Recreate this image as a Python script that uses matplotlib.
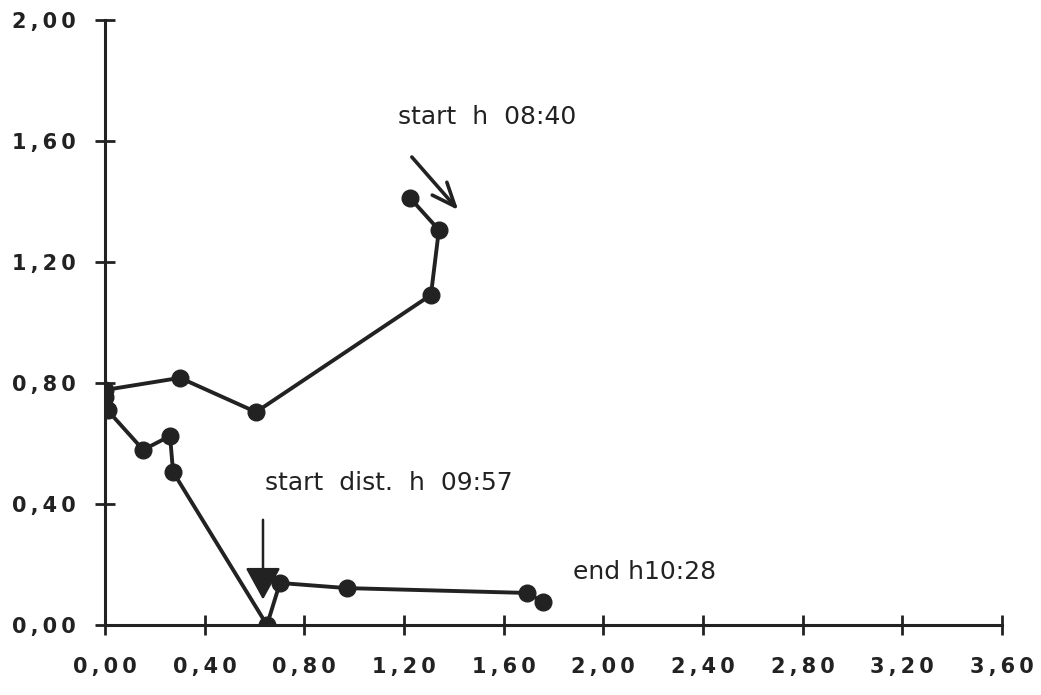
import matplotlib.pyplot as plt
from matplotlib.ticker import FixedLocator, FuncFormatter

# trajectory, in time order (08:40 -> 10:28)
x_vals = [1.224, 1.340, 1.308, 0.606, 0.301, 0.0, 0.0, 0.01, 0.153, 0.261, 0.273,
          0.650, 0.702, 0.971, 1.693, 1.758]
y_vals = [1.412, 1.306, 1.091, 0.704, 0.817, 0.777, 0.755, 0.71, 0.579, 0.625, 0.506,
          0.0, 0.139, 0.122, 0.106, 0.076]

x_ticks = [0.0, 0.4, 0.8, 1.2, 1.6, 2.0, 2.4, 2.8, 3.2, 3.6]
y_ticks = [0.0, 0.4, 0.8, 1.2, 1.6, 2.0]

labels = ["start  h  08:40", "start  dist.  h  09:57", "end h10:28"]
label_pos = [(1.176, 1.679), (0.642, 0.469), (1.878, 0.175)]

ink = "#222222"

def spaced(v, pos):
    # wide letter spacing like the original tick labels
    return "\u2009".join(f"{v:.2f}".replace(".", ","))

fig = plt.figure(figsize=(10.41, 6.95), dpi=100)
ax = fig.add_axes([0.1009, 0.1007, 0.8616, 0.8705])

ax.plot(x_vals, y_vals, color=ink, lw=2.8, marker="o", ms=12,
        mfc=ink, mec=ink, zorder=3)

ax.set_xlim(0, 3.6)
ax.set_ylim(0, 2.0)
ax.xaxis.set_major_locator(FixedLocator(x_ticks))
ax.yaxis.set_major_locator(FixedLocator(y_ticks))
ax.xaxis.set_major_formatter(FuncFormatter(spaced))
ax.yaxis.set_major_formatter(FuncFormatter(spaced))

for s in ["top", "right"]:
    ax.spines[s].set_visible(False)
for s in ["left", "bottom"]:
    ax.spines[s].set_linewidth(2.2)
    ax.spines[s].set_color(ink)

ax.tick_params(axis="both", direction="inout", length=14, width=2, color=ink,
               labelsize=15, labelcolor=ink)
ax.tick_params(axis="x", pad=16)
ax.tick_params(axis="y", pad=14)
for t in ax.get_xticklabels() + ax.get_yticklabels():
    t.set_fontweight("bold")
    t.set_fontfamily("DejaVu Sans")

for txt, (tx, ty) in zip(labels, label_pos):
    ax.text(tx, ty, txt, fontsize=18, family="DejaVu Sans", color=ink,
            ha="left", va="center")

# start arrow (open head)
ax.annotate("", xy=(1.425, 1.365), xytext=(1.224, 1.554),
            arrowprops=dict(arrowstyle="->,head_length=1.7,head_width=0.7",
                            color=ink, lw=2.6))
# disturbance arrow (filled head)
ax.annotate("", xy=(0.634, 0.075), xytext=(0.634, 0.357),
            arrowprops=dict(arrowstyle="-|>,head_length=2.0,head_width=1.1",
                            color=ink, lw=1.8))

fig.savefig("out.png", dpi=100, facecolor="white")
